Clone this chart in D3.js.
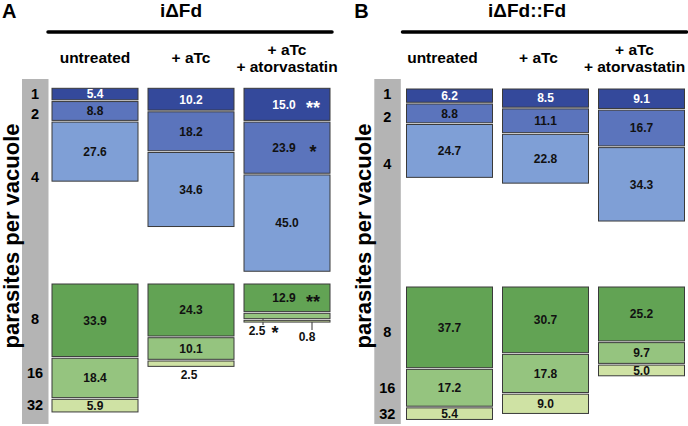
<!DOCTYPE html>
<html>
<head>
<meta charset="utf-8">
<script src="https://cdn.jsdelivr.net/npm/d3@7"></script>
<style>
  body { margin: 0; background: #fff; }
  svg { display: block; font-family: "Liberation Sans", Arial, sans-serif; font-weight: bold; }
</style>
</head>
<body>
<svg id="chart" width="688" height="426"></svg>
<script>
// parasites per vacuole classes
var rows = ["1", "2", "4", "8", "16", "32"];
var columns = ["untreated", "+ aTc", "+ aTc|+ atorvastatin"];

// percentages, panel A (iΔFd)
var iFdUntreated = [5.4, 8.8, 27.6, 33.9, 18.4, 5.9];
var iFdATc       = [10.2, 18.2, 34.6, 24.3, 10.1, 2.5];
var iFdAtorva    = [15.0, 23.9, 45.0, 12.9, 2.5, 0.8];
var iFdStars     = ["**", "*", "", "**", "*", ""];

// percentages, panel B (iΔFd::Fd)
var compUntreated = [6.2, 8.8, 24.7, 37.7, 17.2, 5.4];
var compATc       = [8.5, 11.1, 22.8, 30.7, 17.8, 9.0];
var compAtorva    = [9.1, 16.7, 34.3, 25.2, 9.7, 5.0];

var fills = ["#34499b", "#5b74bc", "#7f9fd6", "#62a354", "#95c47f", "#cfe2a4"];

var svg = d3.select("#chart");

var h = d3.scaleLinear().domain([0, 100]).range([0, 214]);
var gap = 1.7;

var panels = [
  {letter: "A", title: "i\u0394Fd", x0: 0, titleX: 181, band: [52, 330], blueTop: 88.3, greenTop: 284,
   cols: [iFdUntreated, iFdATc, iFdAtorva], stars: [null, null, iFdStars],
   rowY: [94, 114, 177, 319, 373, 405], headShift: 0},
  {letter: "B", title: "i\u0394Fd::Fd", x0: 352.3, titleX: 527, band: [406.5, 684.5], blueTop: 89, greenTop: 287,
   cols: [compUntreated, compATc, compAtorva], stars: [null, null, null],
   rowY: [94, 117, 164, 332, 388, 414], headShift: -7}
];

// tiny boxes whose labels sit outside
var callouts = {
  "A-1-5": {dx: -2, y: 379, line: false},
  "A-2-4": {dx: -30, y: 335, line: true, lx: -24, ly: 325, starDx: -12},
  "A-2-5": {dx: 20, y: 341, line: true, lx: 25, ly: 330}
};

panels.forEach(function(p) {
  var g = svg.append("g");
  var x = d3.scaleBand().domain(columns).range(p.band).paddingInner(10 / 96).paddingOuter(0);

  g.append("text").attr("x", p.x0 + 2).attr("y", 18).attr("font-size", 20).text(p.letter);

  g.append("text").attr("x", p.titleX)
    .attr("y", 17).attr("font-size", 19).attr("text-anchor", "middle").text(p.title);

  g.append("line")
    .attr("x1", p.band[0] - 4).attr("x2", p.band[1] + 2)
    .attr("y1", 32).attr("y2", 32)
    .attr("stroke", "#000").attr("stroke-width", 3.5).attr("stroke-linecap", "round");

  columns.forEach(function(c) {
    var parts = c.split("|");
    var cx = x(c) + x.bandwidth() / 2 + p.headShift;
    parts.forEach(function(t, i) {
      g.append("text").attr("x", cx)
        .attr("y", parts.length == 1 ? 63 : 55 + i * 17)
        .attr("font-size", 15.5).attr("text-anchor", "middle").text(t);
    });
  });

  // grey class bar
  g.append("rect").attr("x", p.x0 + 22).attr("y", 79).attr("width", 26.5).attr("height", 345)
    .attr("fill", "#b4b4b4");

  g.selectAll(".row").data(rows).enter().append("text")
    .attr("x", p.x0 + 35).attr("y", function(d, i) { return p.rowY[i]; })
    .attr("dy", "0.36em").attr("font-size", 14.5).attr("text-anchor", "middle").text(function(d) { return d; });

  g.append("text")
    .attr("transform", "translate(" + (p.x0 + 19) + ",236) rotate(-90)")
    .attr("font-size", 22).attr("text-anchor", "middle").text("parasites per vacuole");

  p.cols.forEach(function(vals, ci) {
    var col = columns[ci];
    var bx = x(col), bw = x.bandwidth(), cx = bx + bw / 2;
    var boxes = [];
    [[0, 1, 2], [3, 4, 5]].forEach(function(grp) {
      var top = grp[0] == 0 ? p.blueTop : p.greenTop;
      var cum = 0;
      grp.forEach(function(k, j) {
        boxes[k] = {y: top + h(cum) + j * gap, hgt: h(vals[k]), v: vals[k], k: k};
        cum += vals[k];
      });
    });

    boxes.forEach(function(b) {
      g.append("rect").attr("x", bx).attr("y", b.y).attr("width", bw).attr("height", Math.max(b.hgt, 1.5))
        .attr("fill", fills[b.k]).attr("stroke", "#3a3a3a").attr("stroke-width", 1);

      var star = p.stars[ci] ? p.stars[ci][b.k] : "";
      var color = b.k == 0 ? "#fff" : "#111";
      var key = p.letter + "-" + ci + "-" + b.k;
      var co = callouts[key];
      if (co) {
        if (co.line) {
          g.append("line").attr("x1", cx + co.lx).attr("x2", cx + co.lx)
            .attr("y1", b.y + b.hgt).attr("y2", co.ly)
            .attr("stroke", "#333").attr("stroke-width", 1);
        }
        g.append("text").attr("x", cx + co.dx).attr("y", co.y).attr("font-size", 12)
          .attr("text-anchor", "middle").attr("fill", "#111").text(b.v.toFixed(1));
        if (star) {
          g.append("text").attr("x", cx + co.starDx).attr("y", co.y + 4).attr("font-size", 18)
            .attr("text-anchor", "middle").attr("fill", "#111").text(star);
        }
        return;
      }
      var ty = b.y + b.hgt / 2;
      g.append("text").attr("x", star ? cx - 3 : cx).attr("y", ty).attr("dy", "0.36em")
        .attr("font-size", 12).attr("text-anchor", "middle").attr("fill", color).text(b.v.toFixed(1));
      if (star) {
        g.append("text").attr("x", cx + 26).attr("y", ty).attr("dy", "0.55em")
          .attr("font-size", 18).attr("text-anchor", "middle").attr("fill", color).text(star);
      }
    });
  });
});
</script>
</body>
</html>
